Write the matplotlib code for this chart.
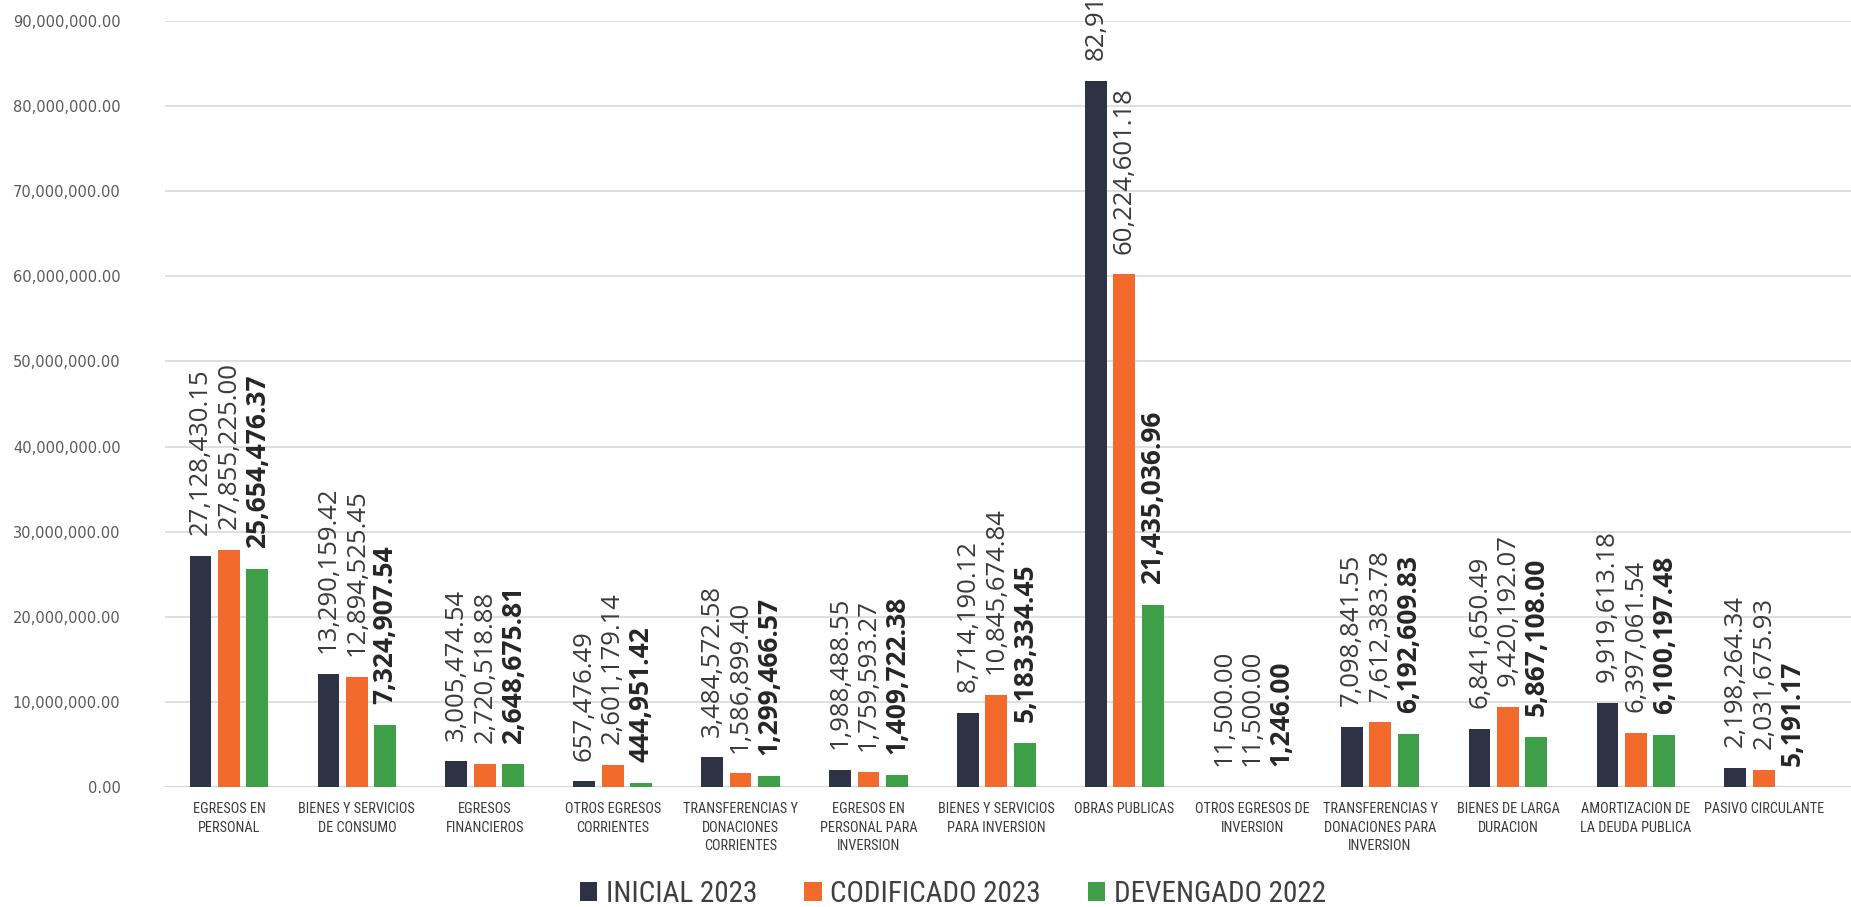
import matplotlib
matplotlib.use("Agg")
import matplotlib.pyplot as plt
from matplotlib import font_manager
from matplotlib.patches import Patch
import numpy as np

# ---- data -------------------------------------------------------------
categories = [
    "EGRESOS EN\nPERSONAL",
    "BIENES Y SERVICIOS\nDE CONSUMO",
    "EGRESOS\nFINANCIEROS",
    "OTROS EGRESOS\nCORRIENTES",
    "TRANSFERENCIAS Y\nDONACIONES\nCORRIENTES",
    "EGRESOS EN\nPERSONAL PARA\nINVERSION",
    "BIENES Y SERVICIOS\nPARA INVERSION",
    "OBRAS PUBLICAS",
    "OTROS EGRESOS DE\nINVERSION",
    "TRANSFERENCIAS Y\nDONACIONES PARA\nINVERSION",
    "BIENES DE LARGA\nDURACION",
    "AMORTIZACION DE\nLA DEUDA PUBLICA",
    "PASIVO CIRCULANTE",
]

inicial_2023 = [27128430.15, 13290159.42, 3005474.54, 657476.49, 3484572.58,
                1988488.55, 8714190.12, 82915000.00, 11500.00, 7098841.55,
                6841650.49, 9919613.18, 2198264.34]
codificado_2023 = [27855225.00, 12894525.45, 2720518.88, 2601179.14, 1586899.40,
                   1759593.27, 10845674.84, 60224601.18, 11500.00, 7612383.78,
                   9420192.07, 6397061.54, 2031675.93]
devengado_2022 = [25654476.37, 7324907.54, 2648675.81, 444951.42, 1299466.57,
                  1409722.38, 5183334.45, 21435036.96, 1246.00, 6192609.83,
                  5867108.00, 6100197.48, 5191.17]

series_names = ["INICIAL 2023", "CODIFICADO 2023", "DEVENGADO 2022"]
y_ticks = np.arange(0, 90_000_001, 10_000_000)

# ---- fonts -------------------------------------------------------------
installed = {f.name for f in font_manager.fontManager.ttflist}
narrow = next((f for f in ["Liberation Sans Narrow", "Roboto Condensed",
                           "Open Sans Condensed", "Roboto"] if f in installed),
              "DejaVu Sans")
value_font = "Open Sans" if "Open Sans" in installed else "DejaVu Sans"

colors = ["#2e3245", "#f26a2c", "#3f9f48"]

fig = plt.figure(figsize=(18.51, 9.07), dpi=100)
fig.patch.set_facecolor("white")

W, H = 1851, 907
left_px, right_px = 165, 1851
zero_px, top_px = 787, 21
ax = fig.add_axes([left_px / W, (H - zero_px) / H,
                   (right_px - left_px) / W, (zero_px - top_px) / H])

spacing = 127.9
x = np.arange(len(categories))
bw = 0.17
off = 0.222

series = [inicial_2023, codificado_2023, devengado_2022]
for i, (vals, col, name) in enumerate(zip(series, colors, series_names)):
    pos = x + (i - 1) * off
    ax.bar(pos, vals, width=bw, color=col, label=name, zorder=3)
    bold = (i == 2)
    for xp, v in zip(pos, vals):
        ax.annotate(f"{v:,.2f}", xy=(xp, v), xytext=(0, 15),
                    textcoords="offset points", rotation=90,
                    ha="center", va="bottom",
                    fontsize=18.5 if not bold else 19,
                    fontweight="bold" if bold else "normal",
                    family=value_font,
                    color="#262626" if bold else "#3a3a3a",
                    annotation_clip=False, zorder=4)

ax.set_ylim(0, 90_000_000)
ax.set_xlim(-0.5, -0.5 + (right_px - left_px) / spacing)
ax.set_yticks(y_ticks)
ax.set_yticklabels([f"{t:,.2f}" for t in y_ticks], fontsize=10.5,
                   color="#595959", family="DejaVu Sans")
ax.yaxis.grid(True, color="#d6d6d6", linewidth=1.1, zorder=0)
ax.set_axisbelow(True)
ax.tick_params(axis="y", length=0, pad=32)
ax.set_xticks(x)
ax.set_xticklabels(categories, fontsize=10.3, family=narrow, color="#3a3a3a",
                   linespacing=1.4)
ax.tick_params(axis="x", length=0, pad=11)
for s in ax.spines.values():
    s.set_visible(False)
ax.axhline(0, color="#cfcfcf", linewidth=1.2, zorder=2)

handles = [Patch(facecolor=c, edgecolor="none") for c in colors]
leg = fig.legend(handles, series_names, loc="center",
                 bbox_to_anchor=(953 / W, (H - 894) / H), ncol=3,
                 frameon=False, handlelength=0.6, handleheight=0.6,
                 handletextpad=0.3, columnspacing=1.6,
                 prop={"family": narrow, "size": 21})
for t in leg.get_texts():
    t.set_color("#404040")

fig.savefig("out.png", dpi=100, facecolor="white")
